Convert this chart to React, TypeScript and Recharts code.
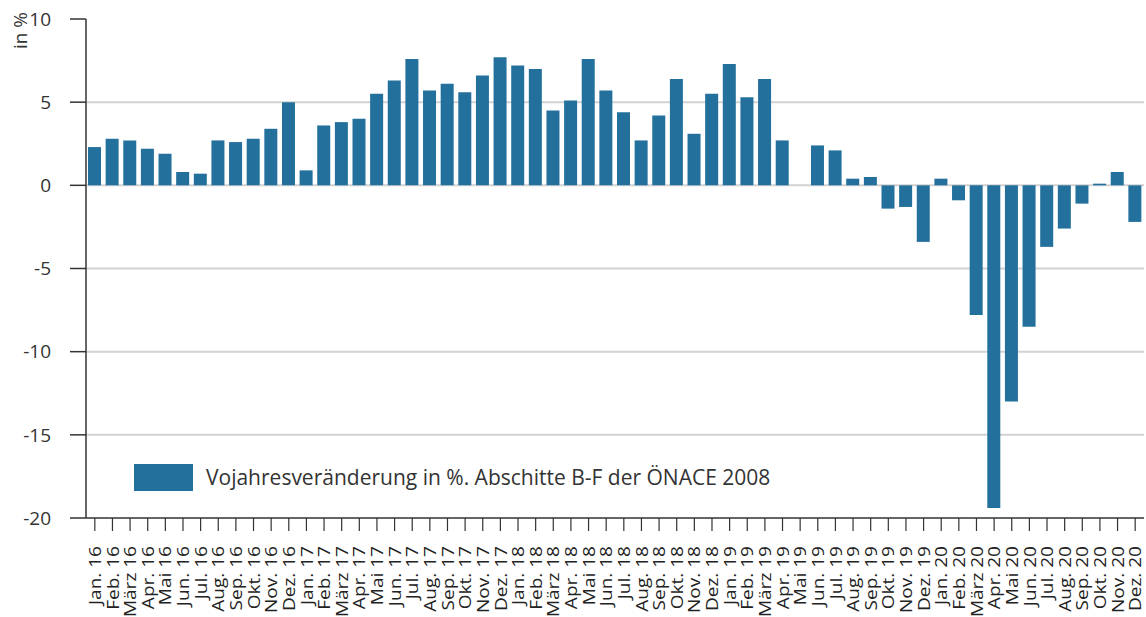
import { BarChart, Bar, XAxis, YAxis, CartesianGrid, Legend } from "recharts";

const months = ["Jan.", "Feb.", "März", "Apr.", "Mai", "Jun.", "Jul.", "Aug.", "Sep.", "Okt.", "Nov.", "Dez."];
const years = ["16", "17", "18", "19", "20"];

// Vorjahresveränderung in %, Jan. 16 – Dez. 20 (Mai 19 ohne Wert)
const values: (number | null)[] = [
  2.3, 2.8, 2.7, 2.2, 1.9, 0.8, 0.7, 2.7, 2.6, 2.8, 3.4, 5.0,
  0.9, 3.6, 3.8, 4.0, 5.5, 6.3, 7.6, 5.7, 6.1, 5.6, 6.6, 7.7,
  7.2, 7.0, 4.5, 5.1, 7.6, 5.7, 4.4, 2.7, 4.2, 6.4, 3.1, 5.5,
  7.3, 5.3, 6.4, 2.7, null, 2.4, 2.1, 0.4, 0.5, -1.4, -1.3, -3.4,
  0.4, -0.9, -7.8, -19.4, -13.0, -8.5, -3.7, -2.6, -1.1, 0.1, 0.8, -2.2,
];

const yTicks = [-20, -15, -10, -5, 0, 5, 10];
const gridValues = [5, 0, -5, -10, -15];
const seriesName = "Vojahresveränderung in %. Abschitte B-F der ÖNACE 2008";

const labels = years.flatMap((y) => months.map((m) => `${m} ${y}`));
const data = labels.map((label, i) => ({ label, value: values[i] }));

const BLUE = "#23709d";
const AXIS = "#333333";
const FONT = "'Open Sans', sans-serif";

function MonthTick(props: any) {
  const { x, y, payload } = props;
  return (
    <text
      transform={`translate(${x},${y}) rotate(-90) scale(1.12,1)`}
      textAnchor="end"
      dy="0.36em"
      fontSize={17}
      fontFamily={FONT}
      fill="#222"
    >
      {payload.value}
    </text>
  );
}

function LegendBox(props: any) {
  const item = props.payload?.[0];
  if (!item) return null;
  return (
    <div style={{ display: "flex", alignItems: "center", fontFamily: FONT, fontSize: 21, color: "#333" }}>
      <span style={{ display: "inline-block", width: 59, height: 27, background: item.color, marginRight: 13 }} />
      <span>{item.value}</span>
    </div>
  );
}

export default function App() {
  return (
    <div style={{ position: "absolute", left: 0, top: 0, background: "#fff" }}>
      <BarChart
        width={1146}
        height={617}
        data={data}
        margin={{ top: 19, right: 2, left: 0, bottom: 0 }}
        barSize={13}
      >
        <CartesianGrid vertical={false} horizontalValues={gridValues} stroke="#d2d2d2" strokeWidth={2} />
        <XAxis
          dataKey="label"
          interval={0}
          height={99}
          tickSize={13}
          tickMargin={15}
          tick={<MonthTick />}
          axisLine={{ stroke: AXIS, strokeWidth: 1.5 }}
          tickLine={{ stroke: AXIS, strokeWidth: 1.2 }}
        />
        <YAxis
          domain={[-20, 10]}
          ticks={yTicks}
          width={86}
          tickSize={16}
          tickMargin={19}
          axisLine={{ stroke: AXIS, strokeWidth: 1.5 }}
          tickLine={{ stroke: AXIS, strokeWidth: 1.5 }}
          tick={{ fontSize: 19, fontFamily: FONT, fill: "#333" }}
          label={{
            content: (p: any) => (
              <text
                transform={`translate(${p.viewBox.x + 27},${p.viewBox.y - 7}) rotate(-90)`}
                textAnchor="end"
                fontSize={19}
                fontFamily={FONT}
                fill="#333"
              >
                in %
              </text>
            ),
          }}
        />
        <Legend
          content={<LegendBox />}
          layout="horizontal"
          verticalAlign="middle"
          wrapperStyle={{ position: "absolute", left: 134, top: 463, width: "auto" }}
        />
        <Bar dataKey="value" name={seriesName} fill={BLUE} isAnimationActive={false} />
      </BarChart>
    </div>
  );
}
